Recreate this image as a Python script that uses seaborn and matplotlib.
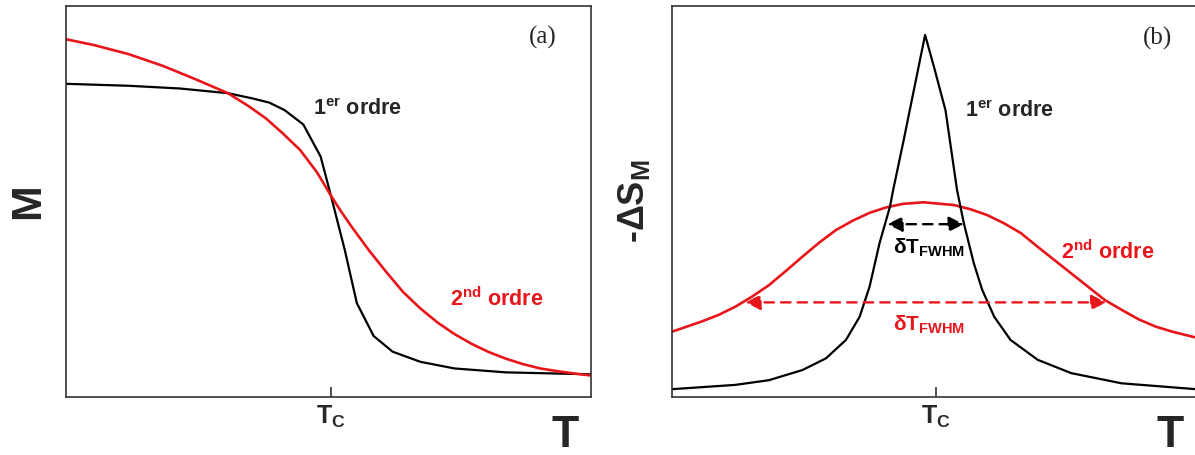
import numpy as np
import pandas as pd
import matplotlib
matplotlib.use("Agg")
import matplotlib.pyplot as plt
import seaborn as sns

sns.set_style("white")
plt.rcParams['font.family'] = ['Liberation Sans', 'DejaVu Sans']
plt.rcParams['mathtext.fontset'] = 'custom'
plt.rcParams['mathtext.rm'] = 'Liberation Sans:bold'
plt.rcParams['mathtext.it'] = 'Liberation Sans:bold'
plt.rcParams['mathtext.bf'] = 'Liberation Sans:bold'

RED = '#e8161b'

# panel (a): magnetisation vs temperature (arbitrary units, 0-100)
m1_T = [0, 11.9, 21.7, 30.85, 35.4, 38.7, 41.6, 45.2, 48.5, 50.46, 53.1, 55.4,
        58.6, 62.2, 67.5, 74.0, 83.8, 100]
m1_M = [80.1, 79.6, 78.9, 77.7, 76.4, 75.3, 73.4, 69.7, 61.5, 51.5, 37.6, 24.0,
        15.6, 11.6, 9.0, 7.3, 6.3, 5.8]
m2_T = [0, 5.36, 11.9, 18.43, 24.97, 30.85, 34.77, 38.04, 41.31, 44.58, 47.84,
        50.46, 52.42, 54.38, 57.65, 60.92, 64.18, 67.45, 70.72, 73.99, 77.25,
        80.52, 83.79, 87.06, 90.33, 93.59, 96.86, 100]
m2_M = [91.5, 90.0, 87.7, 84.7, 81.1, 77.7, 74.4, 71.3, 67.4, 63.2, 57.4,
        51.5, 47.4, 43.6, 37.6, 32.1, 26.9, 22.7, 19.1, 16.1, 13.6,
        11.5, 9.8, 8.4, 7.3, 6.6, 6.0, 5.5]
tc_a = 50.5

# panel (b): -dS_M vs temperature
s1_T = [0, 12.1, 18.5, 24.9, 29.4, 33.2, 35.8, 37.7, 39.6, 41.6, 42.2, 44.2,
        46.4, 48.3, 50.0, 52.2, 54.4, 55.7, 57.6, 59.2, 61.5, 64.6, 69.8,
        76.2, 85.8, 100]
s1_S = [2.0, 3.1, 4.3, 6.9, 9.9, 14.6, 20.5, 28.2, 39.3, 48.7, 52.9, 65.6,
        80.1, 92.6, 84.4, 73.3, 52.9, 44.4, 34.2, 27.4, 20.5, 14.6, 9.5,
        6.1, 3.5, 2.0]
s2_T = [0, 5.65, 8.9, 12.1, 15.3, 18.5, 21.7, 24.9, 28.1, 31.3, 34.5, 37.7,
        40.9, 44.1, 48.0, 53.8, 57.0, 60.2, 63.4, 66.6, 69.8, 73.0, 76.2,
        79.4, 82.6, 85.8, 89.0, 92.3, 95.5, 100]
s2_S = [16.7, 19.3, 21.0, 23.1, 25.7, 28.6, 32.2, 35.9, 39.5, 42.7, 45.1, 47.1,
        48.5, 49.4, 49.8, 49.1, 48.0, 46.5, 44.4, 41.9, 38.4, 35.0, 31.6,
        28.2, 24.8, 22.3, 19.9, 18.0, 16.7, 15.2]
tc_b = 50.3

# FWHM arrows: (x_start, x_end, y)
fwhm1 = (41.1, 55.7, 44.2)
fwhm2 = (14.0, 82.9, 24.2)

fig = plt.figure(figsize=(11.95, 4.55), dpi=100)
ax_a = fig.add_axes([66 / 1195, 58 / 455, 525 / 1195, 391 / 455])
ax_b = fig.add_axes([672 / 1195, 58 / 455, 524 / 1195, 391 / 455])

sns.lineplot(x=m1_T, y=m1_M, color='black', lw=1.6, ax=ax_a)
sns.lineplot(x=m2_T, y=m2_M, color=RED, lw=1.9, ax=ax_a)
sns.lineplot(x=s2_T, y=s2_S, color=RED, lw=1.9, ax=ax_b)
sns.lineplot(x=s1_T, y=s1_S, color='black', lw=1.6, ax=ax_b)

for ax, tc in [(ax_a, tc_a), (ax_b, tc_b)]:
    ax.set_xlim(0, 100)
    ax.set_ylim(0, 100)
    ax.set_yticks([])
    ax.set_xticks([tc])
    ax.set_xticklabels([r'T$_\mathrm{C}$'], fontsize=18, fontweight='bold')
    ax.tick_params(axis='x', bottom=True, direction='in', length=7, width=1.2,
                   color='#333333', pad=5)
    for sp in ax.spines.values():
        sp.set_color('#333333')
        sp.set_linewidth(1.2)
    ax.set_xlabel('T', fontsize=32, fontweight='bold', va='top')
    ax.xaxis.set_label_coords(0.95, -0.045)

ax_a.set_ylabel('M', fontsize=31, fontweight='bold', va='center')
ax_a.yaxis.set_label_coords(-0.072, 0.5)
ax_b.set_ylabel(r'-ΔS$_\mathrm{M}$', fontsize=26, fontweight='bold', va='center')
ax_b.yaxis.set_label_coords(-0.072, 0.5)

ax_a.text(90.8, 91.9, '(a)', fontsize=18, family='Liberation Serif', ha='center', va='center')
ax_b.text(92.6, 91.8, '(b)', fontsize=18, family='Liberation Serif', ha='center', va='center')

ax_a.text(47.0, 72.1, r'1$^{\mathrm{er}}$ ordre', fontsize=15.5, fontweight='bold', va='baseline')
ax_a.text(73.1, 23.3, r'2$^{\mathrm{nd}}$ ordre', fontsize=15.5, fontweight='bold', color=RED, va='baseline')
ax_b.text(55.9, 71.7, r'1$^{\mathrm{er}}$ ordre', fontsize=15.5, fontweight='bold', va='baseline')
ax_b.text(74.2, 35.3, r'2$^{\mathrm{nd}}$ ordre', fontsize=15.5, fontweight='bold', color=RED, va='baseline')

for (x0, x1, y), col, ty in [(fwhm1, 'black', 36.6), (fwhm2, RED, 17.0)]:
    ax_b.annotate('', xy=(x1, y), xytext=(x0, y),
                  arrowprops=dict(arrowstyle='<|-|>,head_length=0.6,head_width=0.3',
                                  color=col, lw=1.7, linestyle=(0, (4, 3)),
                                  shrinkA=0, shrinkB=0, mutation_scale=15))
    ax_b.text(49.0, ty, r'δT$_\mathrm{FWHM}$', fontsize=15, fontweight='bold', color=col,
              ha='center', va='baseline')

plt.savefig('out.png', dpi=100)
plt.close()
